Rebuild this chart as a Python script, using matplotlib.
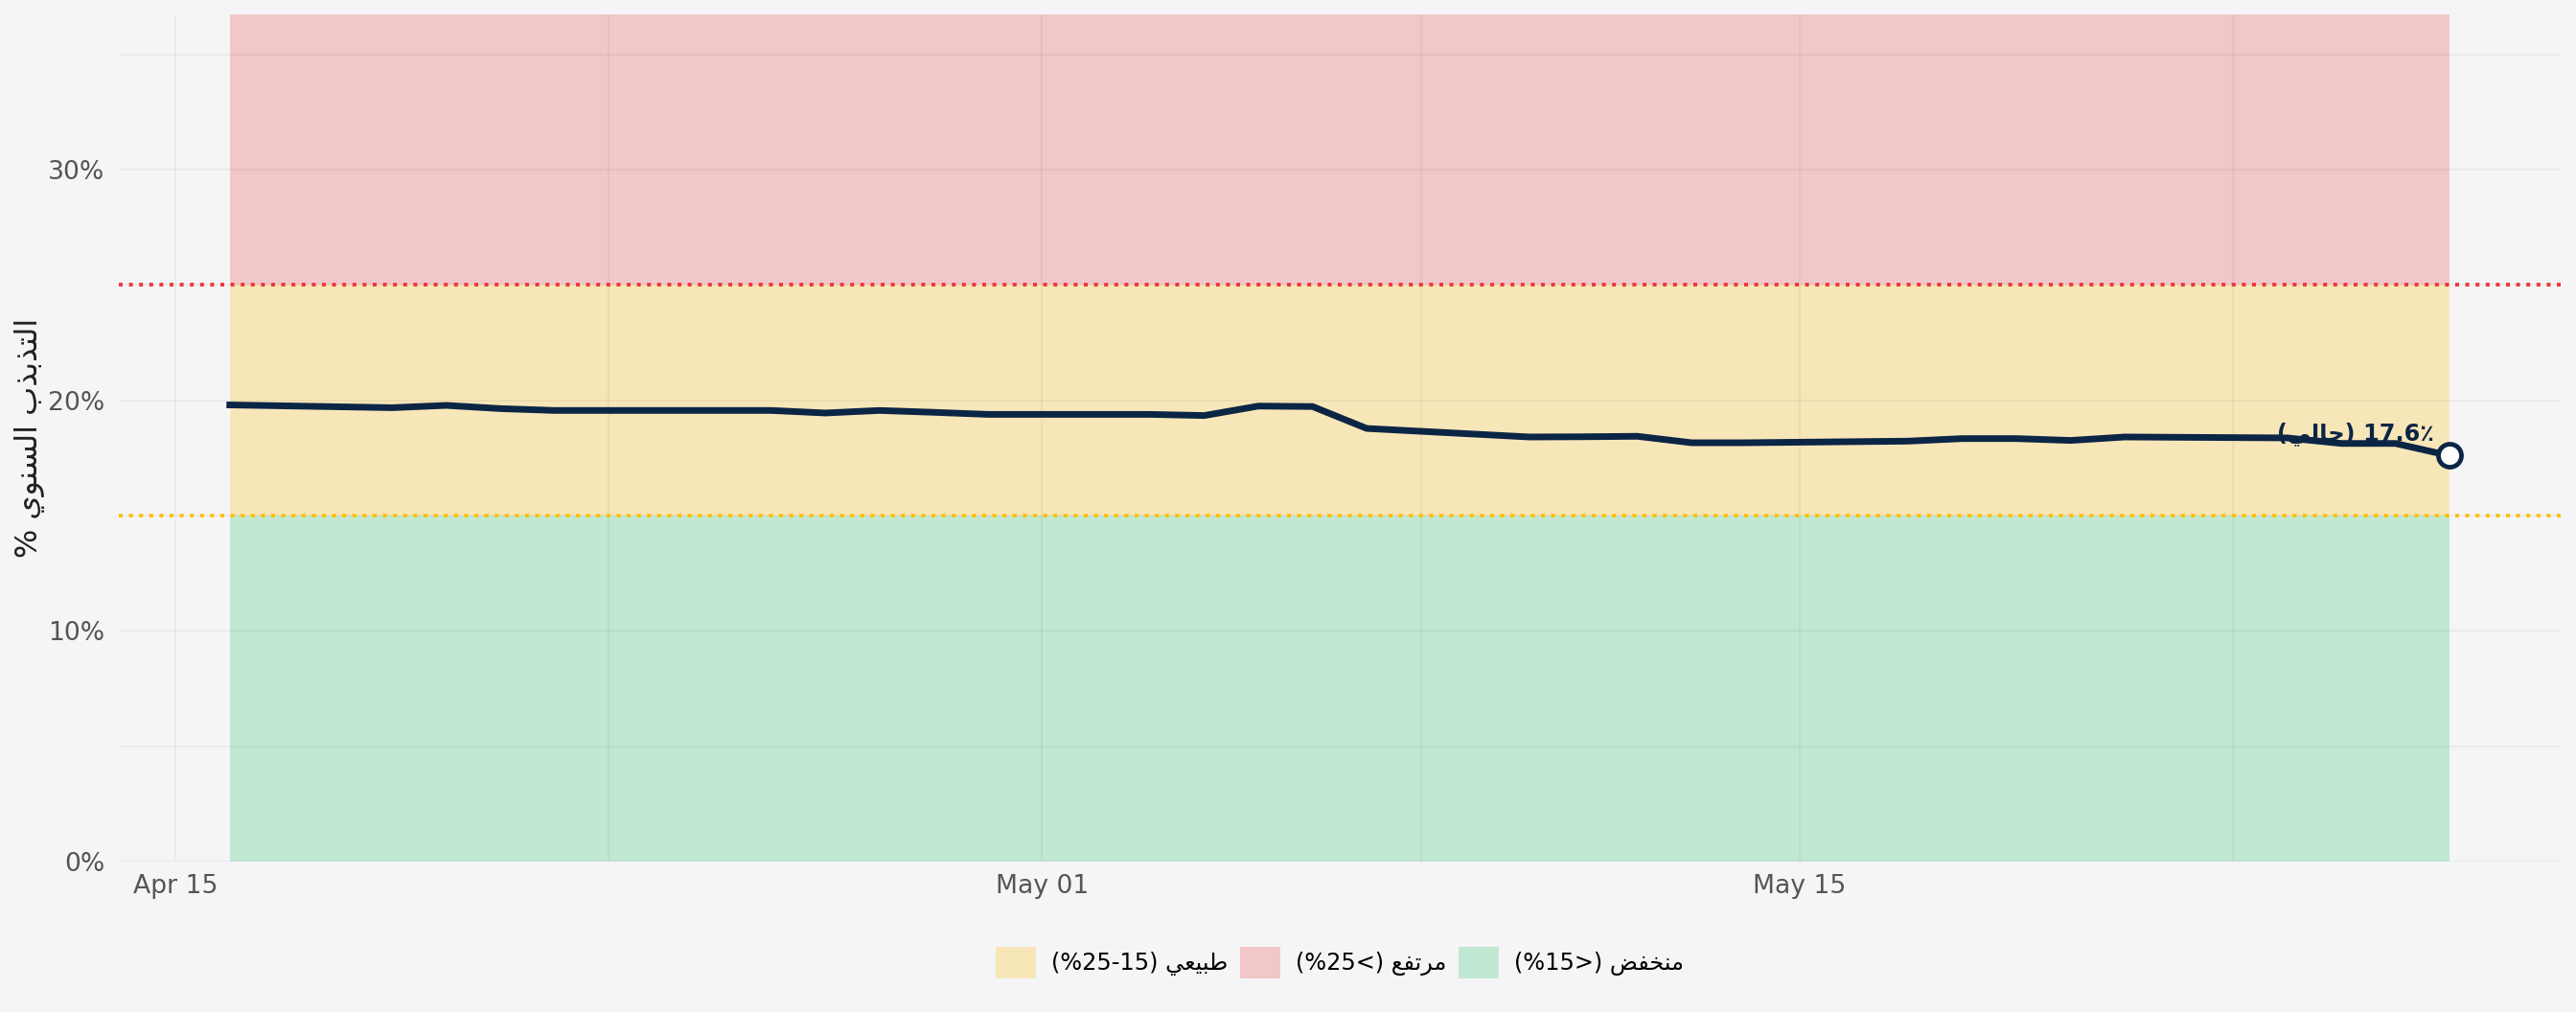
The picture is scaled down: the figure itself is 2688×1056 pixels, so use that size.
import matplotlib.pyplot as plt
import matplotlib.dates as mdates
from matplotlib.patches import Patch
from matplotlib.ticker import PercentFormatter, FixedLocator
import pandas as pd

# data (annualised volatility, %)
dates = pd.to_datetime(['2021-04-16', '2021-04-19', '2021-04-20', '2021-04-21', '2021-04-22',
                        '2021-04-23', '2021-04-26', '2021-04-27', '2021-04-28', '2021-04-29',
                        '2021-04-30', '2021-05-03', '2021-05-04', '2021-05-05', '2021-05-06',
                        '2021-05-07', '2021-05-10', '2021-05-11', '2021-05-12', '2021-05-13',
                        '2021-05-14', '2021-05-17', '2021-05-18', '2021-05-19', '2021-05-20',
                        '2021-05-21', '2021-05-24', '2021-05-25', '2021-05-26', '2021-05-27'])
vol = [19.80, 19.68, 19.78, 19.64, 19.56, 19.56, 19.56, 19.45, 19.56, 19.48,
       19.39, 19.39, 19.34, 19.75, 19.73, 18.78, 18.41, 18.42, 18.44, 18.16,
       18.16, 18.23, 18.34, 18.34, 18.26, 18.41, 18.37, 18.13, 18.13, 17.60]
low_level = 15
high_level = 25
y_top = 36.75
minor_days = pd.to_datetime(['2021-04-23', '2021-05-08', '2021-05-23'])

# matplotlib does no arabic shaping -> pick presentation forms by hand
FORMS = {
    'ا': (0xFE8D, 0xFE8E, None, None),
    'ب': (0xFE8F, 0xFE90, 0xFE91, 0xFE92),
    'ت': (0xFE95, 0xFE96, 0xFE97, 0xFE98),
    'ح': (0xFEA1, 0xFEA2, 0xFEA3, 0xFEA4),
    'خ': (0xFEA5, 0xFEA6, 0xFEA7, 0xFEA8),
    'ذ': (0xFEAB, 0xFEAC, None, None),
    'ر': (0xFEAD, 0xFEAE, None, None),
    'س': (0xFEB1, 0xFEB2, 0xFEB3, 0xFEB4),
    'ض': (0xFEBD, 0xFEBE, 0xFEBF, 0xFEC0),
    'ط': (0xFEC1, 0xFEC2, 0xFEC3, 0xFEC4),
    'ع': (0xFEC9, 0xFECA, 0xFECB, 0xFECC),
    'ف': (0xFED1, 0xFED2, 0xFED3, 0xFED4),
    'ل': (0xFEDD, 0xFEDE, 0xFEDF, 0xFEE0),
    'م': (0xFEE1, 0xFEE2, 0xFEE3, 0xFEE4),
    'ن': (0xFEE5, 0xFEE6, 0xFEE7, 0xFEE8),
    'و': (0xFEED, 0xFEEE, None, None),
    'ي': (0xFEF1, 0xFEF2, 0xFEF3, 0xFEF4),
}

def ar(word):
    out = []
    for i, ch in enumerate(word):
        f = FORMS[ch]
        prev = i > 0 and FORMS[word[i - 1]][2] is not None
        nxt = i < len(word) - 1 and f[2] is not None
        if prev and nxt:
            code = f[3]
        elif prev:
            code = f[1]
        elif nxt:
            code = f[2]
        else:
            code = f[0]
        out.append(chr(code))
    return ''.join(reversed(out))

navy = '#0b2545'
c_green = '#c1e8d3'
c_yellow = '#f7e6b8'
c_red = '#f2c7c9'
bg = '#f5f5f7'

fig = plt.figure(figsize=(14, 5.5), dpi=192, facecolor=bg)
ax = fig.add_axes([0.0461, 0.1487, 0.9479, 0.8374])
ax.set_facecolor(bg)

# zones
ax.fill_between(dates, 0, low_level, color=c_green, lw=0, zorder=1)
ax.fill_between(dates, low_level, high_level, color=c_yellow, lw=0, zorder=1)
ax.fill_between(dates, high_level, y_top, color=c_red, lw=0, zorder=1)
ax.axhline(high_level, color='#ee3b3b', ls=':', lw=1.5, zorder=1.8)
ax.axhline(low_level, color='#ffc107', ls=':', lw=1.5, zorder=1.8)

# volatility line + last point
ax.plot(dates, vol, color=navy, lw=2.6, zorder=3)
ax.plot(dates[-1:], vol[-1:], 'o', ms=9, mfc='white', mec=navy, mew=1.8, zorder=4)
ax.annotate('(' + ar('حالي') + ') ' + f'{vol[-1]:.1f}' + '\u066a',
            xy=(dates[-1], vol[-1]), xytext=(-6, 6), textcoords='offset points',
            ha='right', va='baseline', fontsize=9, fontweight='bold', color=navy, zorder=5)

ax.set_ylim(0, y_top)
ax.margins(x=0.05)
ax.yaxis.set_major_formatter(PercentFormatter(decimals=0))
ax.set_yticks([0, 10, 20, 30])
ax.yaxis.set_minor_locator(FixedLocator([5, 15, 25, 35]))
ax.xaxis.set_major_locator(mdates.DayLocator(bymonthday=[1, 15]))
ax.xaxis.set_major_formatter(mdates.DateFormatter('%b %d'))
ax.xaxis.set_minor_locator(FixedLocator(mdates.date2num(minor_days)))

ax.set_axisbelow('line')
ax.grid(which='both', color='black', alpha=0.04, lw=0.8)
ax.tick_params(which='both', length=0, labelsize=10, labelcolor='#555555')
ax.tick_params(axis='y', pad=5.5)
ax.tick_params(axis='x', pad=5)
for s in ax.spines.values():
    s.set_visible(False)

ax.set_ylabel('% ' + ar('السنوي') + ' ' + ar('التذبذب'), fontsize=12, color='#222222')
ax.yaxis.set_label_coords(-0.030, 0.5)

handles = [Patch(facecolor=c_yellow, label='(%25-15) ' + ar('طبيعي')),
           Patch(facecolor=c_red, label='(%25<) ' + ar('مرتفع')),
           Patch(facecolor=c_green, label='(%15>) ' + ar('منخفض'))]
ax.legend(handles=handles, ncol=3, frameon=False, loc='center', bbox_to_anchor=(0.5, -0.119),
          fontsize=9, handlelength=1.75, handleheight=1.75, handletextpad=0.7, columnspacing=0.5)

fig.savefig('out.png', dpi=192, facecolor=bg)
